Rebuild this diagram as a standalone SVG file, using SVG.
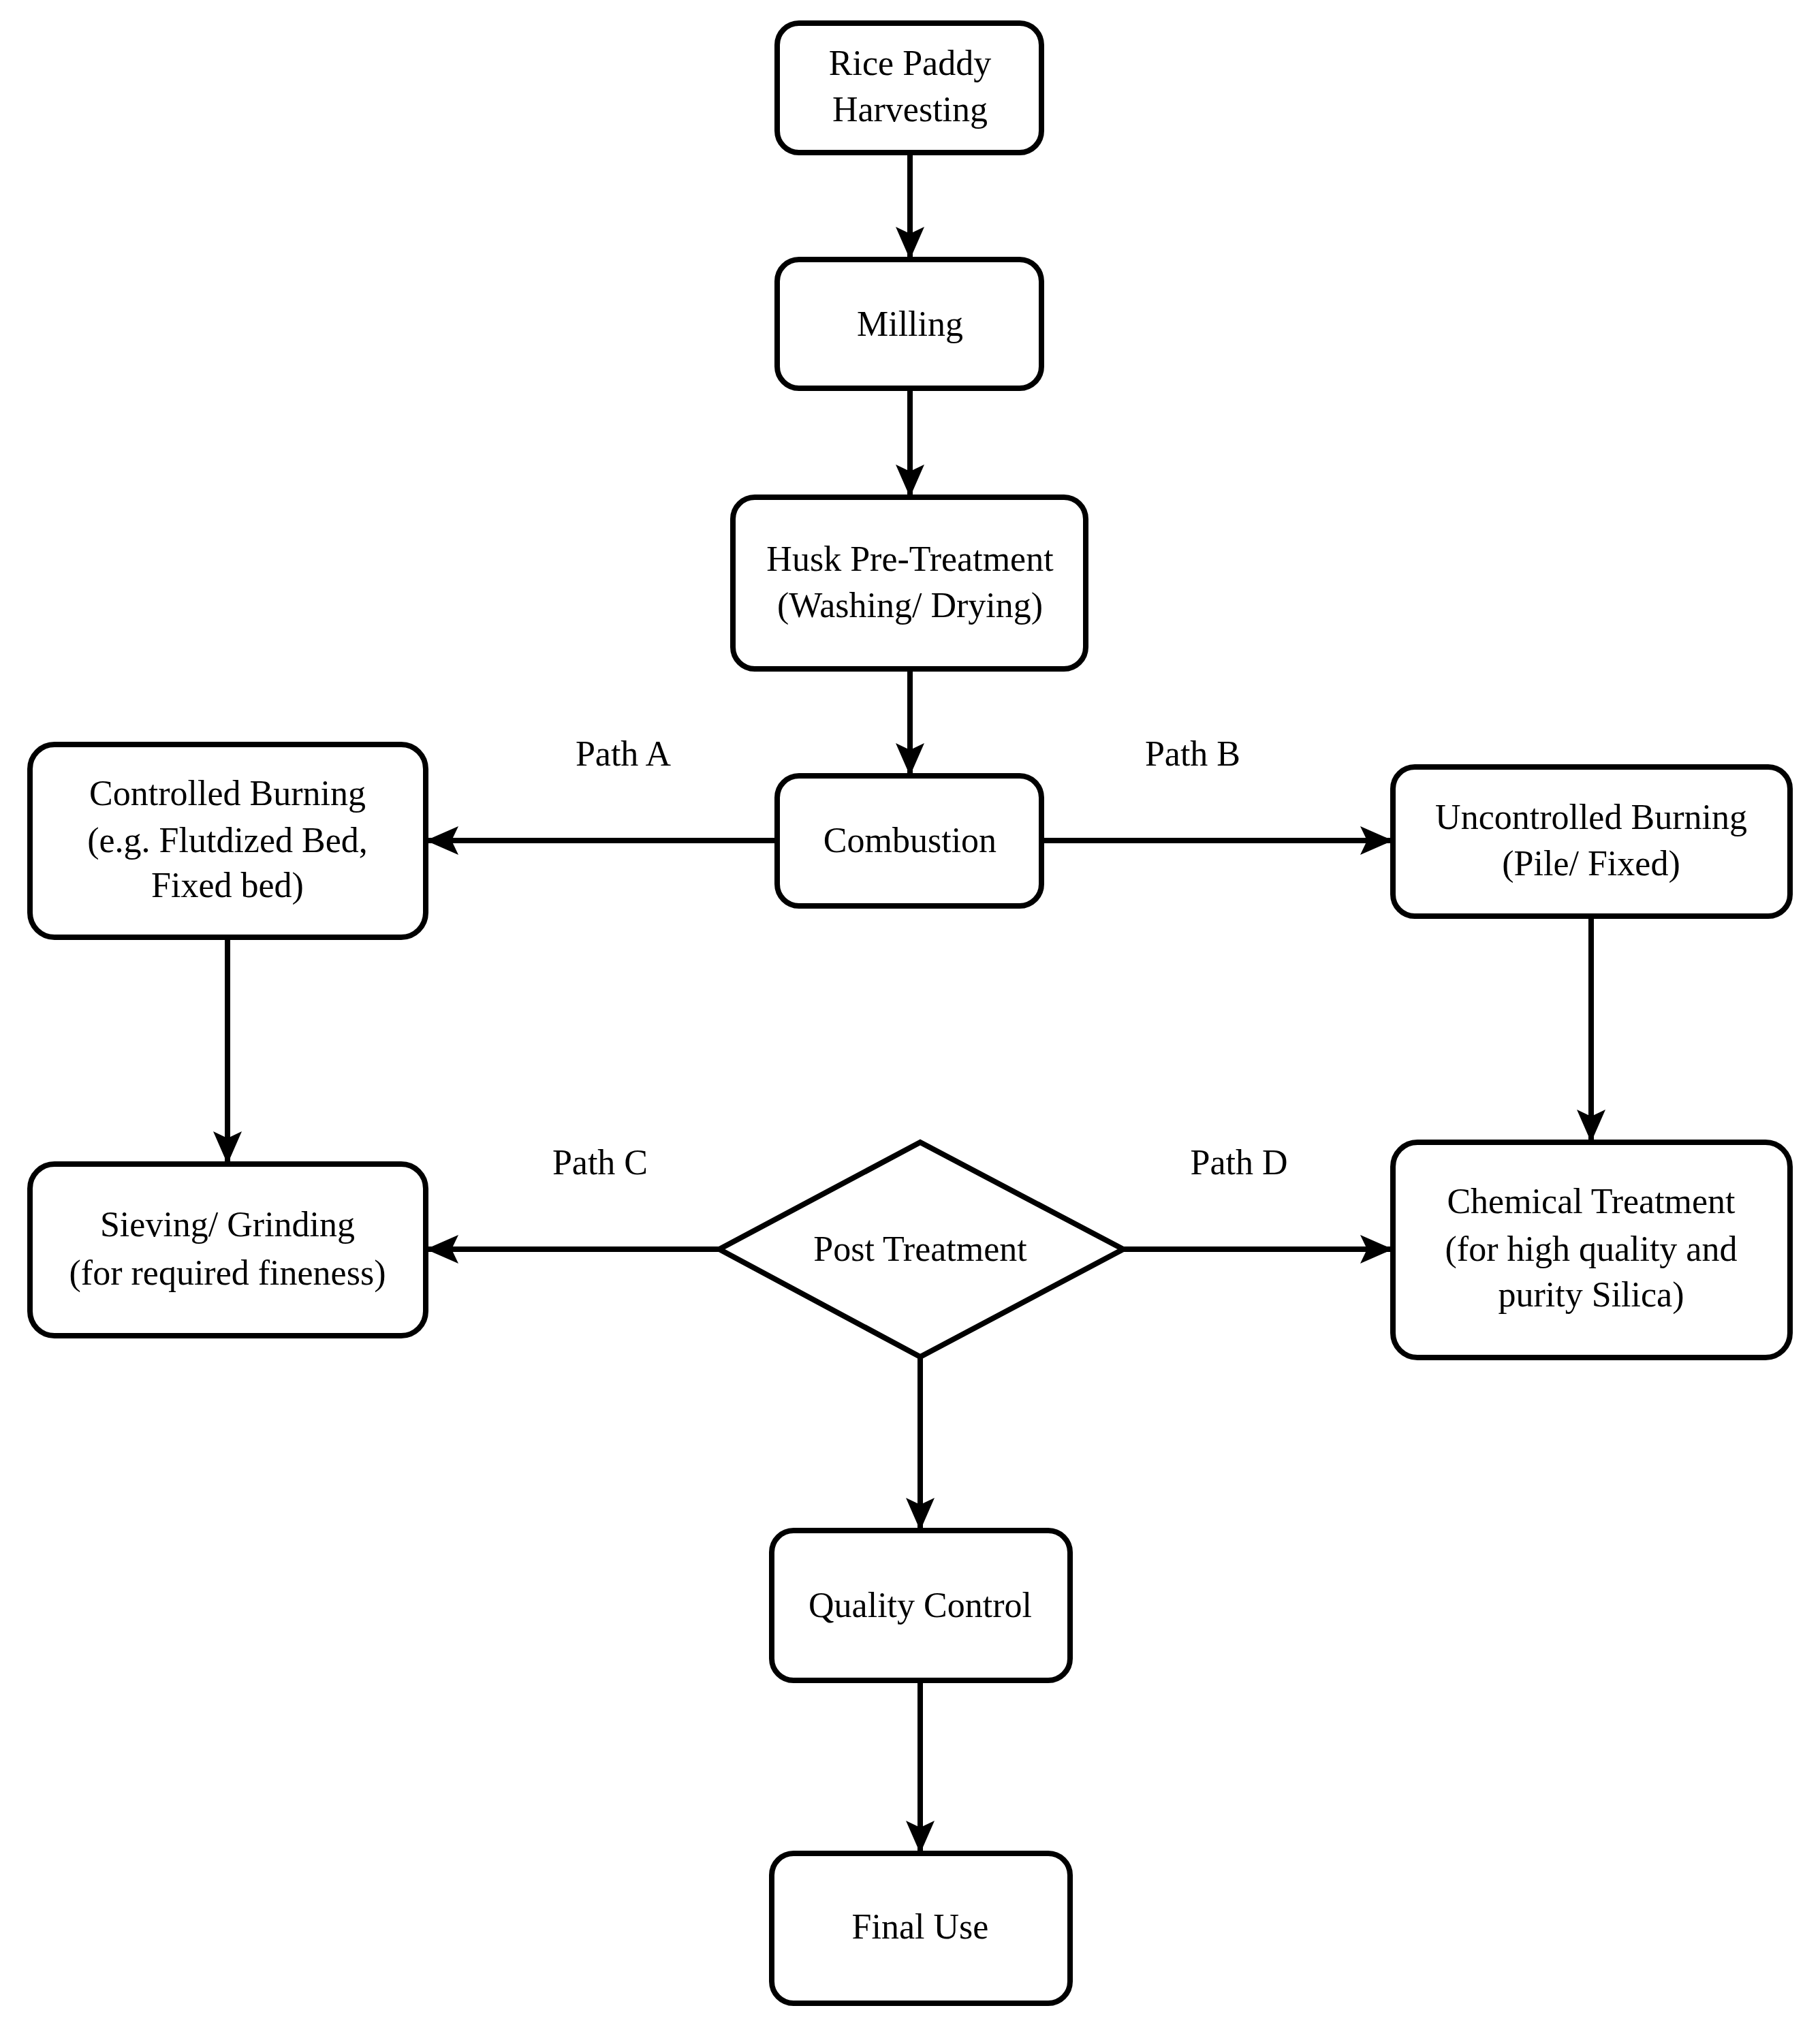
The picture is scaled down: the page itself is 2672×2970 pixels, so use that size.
<svg xmlns="http://www.w3.org/2000/svg" width="2672" height="2970" viewBox="0 0 2672 2970">
<style>
.n{fill:#fff;stroke:#000;stroke-width:8}
.t{font-family:"Liberation Serif","Times New Roman",serif;font-size:52px;text-anchor:middle;fill:#000}
.c{stroke:#000;stroke-width:8;fill:none;marker-end:url(#ah)}
</style>
<defs>
<marker id="ah" markerUnits="userSpaceOnUse" markerWidth="50" markerHeight="50" viewBox="0 0 50 50" refX="46" refY="25" orient="auto">
<path d="M0,4 L48,25 L0,46 L10,25 Z" fill="#000"/>
</marker>
</defs>
<rect width="2672" height="2970" fill="#fff"/>
<g id="connectors">
<line class="c" x1="1336" y1="224" x2="1336" y2="379"/>
<line class="c" x1="1336" y1="570" x2="1336" y2="728"/>
<line class="c" x1="1336" y1="982" x2="1336" y2="1137"/>
<line class="c" x1="1141" y1="1234" x2="627" y2="1234"/>
<line class="c" x1="1529" y1="1234" x2="2043" y2="1234"/>
<line class="c" x1="334" y1="1376" x2="334" y2="1707"/>
<line class="c" x1="2336" y1="1345" x2="2336" y2="1675"/>
<line class="c" x1="1056" y1="1834" x2="627" y2="1834"/>
<line class="c" x1="1649" y1="1834" x2="2043" y2="1834"/>
<line class="c" x1="1351" y1="1992" x2="1351" y2="2245"/>
<line class="c" x1="1351" y1="2467" x2="1351" y2="2719"/>
</g>
<g id="rice"><rect class="n" x="1141" y="34" width="388" height="190" rx="32"/><text class="t" x="1336" y="110">Rice Paddy</text><text class="t" x="1336" y="178">Harvesting</text></g>
<g id="milling"><rect class="n" x="1141" y="381" width="388" height="189" rx="32"/><text class="t" x="1336" y="493">Milling</text></g>
<g id="husk"><rect class="n" x="1076" y="730" width="518" height="252" rx="32"/><text class="t" x="1336" y="838">Husk Pre-Treatment</text><text class="t" x="1336" y="906">(Washing/ Drying)</text></g>
<g id="combustion"><rect class="n" x="1141" y="1139" width="388" height="191" rx="32"/><text class="t" x="1336" y="1251">Combustion</text></g>
<g id="controlled"><rect class="n" x="44" y="1093" width="581" height="283" rx="36"/><text class="t" x="334" y="1182">Controlled Burning</text><text class="t" x="334" y="1251">(e.g. Flutdized Bed,</text><text class="t" x="334" y="1317">Fixed bed)</text></g>
<g id="uncontrolled"><rect class="n" x="2045" y="1126" width="583" height="219" rx="32"/><text class="t" x="2336" y="1217">Uncontrolled Burning</text><text class="t" x="2336" y="1285">(Pile/ Fixed)</text></g>
<g id="sieving"><rect class="n" x="44" y="1709" width="581" height="252" rx="36"/><text class="t" x="334" y="1815">Sieving/ Grinding</text><text class="t" x="334" y="1886">(for required fineness)</text></g>
<g id="post"><polygon class="n" points="1351,1677 1649,1834 1351,1992 1056,1834"/><text class="t" x="1351" y="1851">Post Treatment</text></g>
<g id="chemical"><rect class="n" x="2045" y="1677" width="583" height="316" rx="36"/><text class="t" x="2336" y="1781">Chemical Treatment</text><text class="t" x="2336" y="1851">(for high quality and</text><text class="t" x="2336" y="1918">purity Silica)</text></g>
<g id="quality"><rect class="n" x="1133" y="2247" width="438" height="220" rx="32"/><text class="t" x="1351" y="2374">Quality Control</text></g>
<g id="final"><rect class="n" x="1133" y="2721" width="438" height="220" rx="32"/><text class="t" x="1351" y="2846">Final Use</text></g>
<g id="labels">
<text class="t" x="915" y="1124">Path A</text>
<text class="t" x="1751" y="1124">Path B</text>
<text class="t" x="881" y="1724">Path C</text>
<text class="t" x="1819" y="1724">Path D</text>
</g>
</svg>
